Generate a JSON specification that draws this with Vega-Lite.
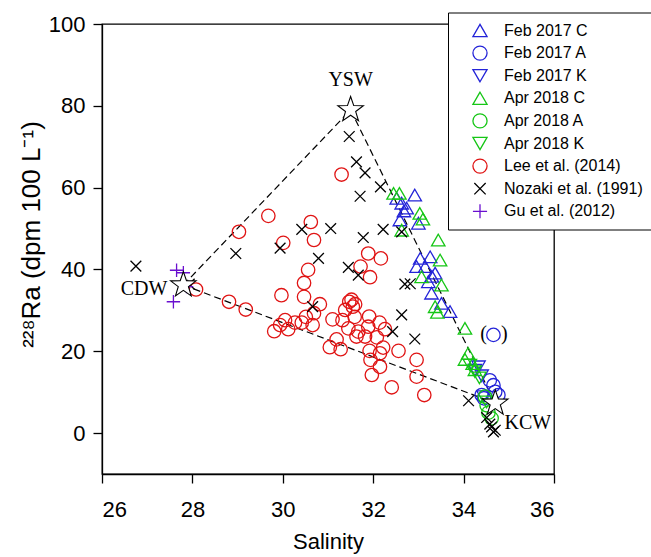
{
  "$schema": "https://vega.github.io/schema/vega-lite/v6.json",
  "autosize": "none",
  "width": 452,
  "height": 450,
  "padding": {"left": 102, "top": 24, "right": 97, "bottom": 83},
  "background": "white",
  "config": {
    "view": {"stroke": "black", "strokeWidth": 1.3},
    "axis": {
      "grid": false,
      "labelFont": "Liberation Sans",
      "titleFont": "Liberation Sans",
      "labelFontSize": 22,
      "titleFontSize": 22,
      "titleFontWeight": "normal",
      "labelColor": "black",
      "titleColor": "black",
      "domainColor": "black",
      "tickColor": "black",
      "tickSize": 9,
      "domainWidth": 1.3,
      "tickWidth": 1.3
    }
  },
  "datasets": {
    "pts": [
      {"series": "Feb 2017 C", "s": 32.52, "ra": 57.4},
      {"series": "Feb 2017 C", "s": 32.63, "ra": 56.2},
      {"series": "Feb 2017 C", "s": 32.74, "ra": 55.0},
      {"series": "Feb 2017 C", "s": 32.68, "ra": 54.3},
      {"series": "Feb 2017 C", "s": 32.92, "ra": 58.2},
      {"series": "Feb 2017 C", "s": 32.59, "ra": 52.1},
      {"series": "Feb 2017 C", "s": 33.0, "ra": 51.3},
      {"series": "Feb 2017 C", "s": 33.04, "ra": 42.7},
      {"series": "Feb 2017 C", "s": 33.26, "ra": 43.1},
      {"series": "Feb 2017 C", "s": 33.15, "ra": 40.7},
      {"series": "Feb 2017 C", "s": 32.96, "ra": 40.7},
      {"series": "Feb 2017 C", "s": 33.37, "ra": 39.1},
      {"series": "Feb 2017 C", "s": 33.3, "ra": 38.3},
      {"series": "Feb 2017 C", "s": 33.22, "ra": 37.0},
      {"series": "Feb 2017 C", "s": 33.29, "ra": 34.2},
      {"series": "Feb 2017 C", "s": 33.51, "ra": 31.7},
      {"series": "Feb 2017 C", "s": 33.7, "ra": 29.7},
      {"series": "Feb 2017 A", "s": 34.66, "ra": 24.0},
      {"series": "Feb 2017 A", "s": 34.58, "ra": 12.9},
      {"series": "Feb 2017 A", "s": 34.66, "ra": 11.7},
      {"series": "Feb 2017 A", "s": 34.7, "ra": 10.1},
      {"series": "Feb 2017 A", "s": 34.77, "ra": 9.3},
      {"series": "Feb 2017 A", "s": 34.4, "ra": 9.3},
      {"series": "Feb 2017 A", "s": 34.45, "ra": 8.5},
      {"series": "Feb 2017 K", "s": 34.33, "ra": 16.2},
      {"series": "Feb 2017 K", "s": 34.25, "ra": 15.4},
      {"series": "Feb 2017 K", "s": 34.4, "ra": 14.0},
      {"series": "Feb 2017 K", "s": 34.44, "ra": 8.9},
      {"series": "Apr 2018 C", "s": 32.45, "ra": 58.6},
      {"series": "Apr 2018 C", "s": 32.58, "ra": 58.6},
      {"series": "Apr 2018 C", "s": 33.03, "ra": 53.7},
      {"series": "Apr 2018 C", "s": 33.1, "ra": 52.3},
      {"series": "Apr 2018 C", "s": 32.63, "ra": 49.6},
      {"series": "Apr 2018 C", "s": 33.44, "ra": 47.2},
      {"series": "Apr 2018 C", "s": 33.48, "ra": 42.3},
      {"series": "Apr 2018 C", "s": 33.07, "ra": 38.2},
      {"series": "Apr 2018 C", "s": 33.51, "ra": 36.2},
      {"series": "Apr 2018 C", "s": 33.37, "ra": 30.9},
      {"series": "Apr 2018 C", "s": 33.42, "ra": 29.5},
      {"series": "Apr 2018 C", "s": 34.03, "ra": 25.6},
      {"series": "Apr 2018 C", "s": 34.1, "ra": 19.5},
      {"series": "Apr 2018 C", "s": 34.03, "ra": 18.0},
      {"series": "Apr 2018 C", "s": 34.2, "ra": 17.0},
      {"series": "Apr 2018 C", "s": 34.25, "ra": 15.5},
      {"series": "Apr 2018 A", "s": 34.47, "ra": 8.9},
      {"series": "Apr 2018 A", "s": 34.51, "ra": 6.8},
      {"series": "Apr 2018 A", "s": 34.55, "ra": 5.0},
      {"series": "Apr 2018 A", "s": 34.62, "ra": 3.6},
      {"series": "Apr 2018 K", "s": 34.14, "ra": 16.6},
      {"series": "Apr 2018 K", "s": 34.25, "ra": 15.0},
      {"series": "Apr 2018 K", "s": 34.35, "ra": 13.5},
      {"series": "Apr 2018 K", "s": 34.51, "ra": 7.6},
      {"series": "Lee et al. (2014)", "s": 31.3, "ra": 63.2},
      {"series": "Lee et al. (2014)", "s": 29.68, "ra": 53.1},
      {"series": "Lee et al. (2014)", "s": 29.03, "ra": 49.2},
      {"series": "Lee et al. (2014)", "s": 30.62, "ra": 51.6},
      {"series": "Lee et al. (2014)", "s": 30.01, "ra": 46.5},
      {"series": "Lee et al. (2014)", "s": 30.69, "ra": 47.2},
      {"series": "Lee et al. (2014)", "s": 31.89, "ra": 43.9},
      {"series": "Lee et al. (2014)", "s": 32.17, "ra": 42.7},
      {"series": "Lee et al. (2014)", "s": 31.72, "ra": 40.7},
      {"series": "Lee et al. (2014)", "s": 31.93, "ra": 38.1},
      {"series": "Lee et al. (2014)", "s": 30.56, "ra": 39.9},
      {"series": "Lee et al. (2014)", "s": 30.47, "ra": 36.7},
      {"series": "Lee et al. (2014)", "s": 29.97, "ra": 33.7},
      {"series": "Lee et al. (2014)", "s": 30.47, "ra": 33.3},
      {"series": "Lee et al. (2014)", "s": 28.08, "ra": 35.1},
      {"series": "Lee et al. (2014)", "s": 28.81, "ra": 32.1},
      {"series": "Lee et al. (2014)", "s": 29.18, "ra": 30.2},
      {"series": "Lee et al. (2014)", "s": 30.82, "ra": 31.5},
      {"series": "Lee et al. (2014)", "s": 30.69, "ra": 29.3},
      {"series": "Lee et al. (2014)", "s": 30.51, "ra": 28.4},
      {"series": "Lee et al. (2014)", "s": 30.42, "ra": 27.0},
      {"series": "Lee et al. (2014)", "s": 30.66, "ra": 26.4},
      {"series": "Lee et al. (2014)", "s": 29.81, "ra": 24.9},
      {"series": "Lee et al. (2014)", "s": 30.05, "ra": 27.6},
      {"series": "Lee et al. (2014)", "s": 30.12, "ra": 25.4},
      {"series": "Lee et al. (2014)", "s": 30.27, "ra": 27.0},
      {"series": "Lee et al. (2014)", "s": 29.94, "ra": 26.4},
      {"series": "Lee et al. (2014)", "s": 31.47, "ra": 32.1},
      {"series": "Lee et al. (2014)", "s": 31.52, "ra": 32.6},
      {"series": "Lee et al. (2014)", "s": 31.6, "ra": 31.5},
      {"series": "Lee et al. (2014)", "s": 31.55, "ra": 30.9},
      {"series": "Lee et al. (2014)", "s": 31.38, "ra": 30.1},
      {"series": "Lee et al. (2014)", "s": 31.1, "ra": 27.8},
      {"series": "Lee et al. (2014)", "s": 31.32, "ra": 27.6},
      {"series": "Lee et al. (2014)", "s": 31.59, "ra": 28.4},
      {"series": "Lee et al. (2014)", "s": 31.45, "ra": 25.6},
      {"series": "Lee et al. (2014)", "s": 31.67, "ra": 24.8},
      {"series": "Lee et al. (2014)", "s": 31.19, "ra": 22.9},
      {"series": "Lee et al. (2014)", "s": 31.04, "ra": 21.0},
      {"series": "Lee et al. (2014)", "s": 31.28, "ra": 20.5},
      {"series": "Lee et al. (2014)", "s": 31.63, "ra": 23.6},
      {"series": "Lee et al. (2014)", "s": 31.91, "ra": 28.5},
      {"series": "Lee et al. (2014)", "s": 32.14, "ra": 27.0},
      {"series": "Lee et al. (2014)", "s": 32.26, "ra": 25.4},
      {"series": "Lee et al. (2014)", "s": 31.89, "ra": 26.0},
      {"series": "Lee et al. (2014)", "s": 31.82, "ra": 23.6},
      {"series": "Lee et al. (2014)", "s": 32.08, "ra": 23.4},
      {"series": "Lee et al. (2014)", "s": 32.56, "ra": 20.1},
      {"series": "Lee et al. (2014)", "s": 31.92, "ra": 20.1},
      {"series": "Lee et al. (2014)", "s": 32.15, "ra": 19.5},
      {"series": "Lee et al. (2014)", "s": 31.94, "ra": 17.9},
      {"series": "Lee et al. (2014)", "s": 32.15, "ra": 16.2},
      {"series": "Lee et al. (2014)", "s": 31.97, "ra": 14.2},
      {"series": "Lee et al. (2014)", "s": 32.22, "ra": 20.9},
      {"series": "Lee et al. (2014)", "s": 32.41, "ra": 11.2},
      {"series": "Lee et al. (2014)", "s": 32.96, "ra": 17.9},
      {"series": "Lee et al. (2014)", "s": 32.96, "ra": 13.8},
      {"series": "Lee et al. (2014)", "s": 33.13, "ra": 9.3},
      {"series": "Nozaki et al. (1991)", "s": 31.47, "ra": 72.5},
      {"series": "Nozaki et al. (1991)", "s": 31.63, "ra": 66.3},
      {"series": "Nozaki et al. (1991)", "s": 31.82, "ra": 63.6},
      {"series": "Nozaki et al. (1991)", "s": 32.16, "ra": 60.2},
      {"series": "Nozaki et al. (1991)", "s": 31.71, "ra": 57.9},
      {"series": "Nozaki et al. (1991)", "s": 30.42, "ra": 49.8},
      {"series": "Nozaki et al. (1991)", "s": 31.06, "ra": 50.0},
      {"series": "Nozaki et al. (1991)", "s": 32.22, "ra": 49.8},
      {"series": "Nozaki et al. (1991)", "s": 32.63, "ra": 49.2},
      {"series": "Nozaki et al. (1991)", "s": 31.78, "ra": 47.8},
      {"series": "Nozaki et al. (1991)", "s": 29.94, "ra": 45.2},
      {"series": "Nozaki et al. (1991)", "s": 28.96, "ra": 43.9},
      {"series": "Nozaki et al. (1991)", "s": 30.79, "ra": 42.7},
      {"series": "Nozaki et al. (1991)", "s": 31.45, "ra": 40.5},
      {"series": "Nozaki et al. (1991)", "s": 31.67, "ra": 38.6},
      {"series": "Nozaki et al. (1991)", "s": 32.7, "ra": 36.4},
      {"series": "Nozaki et al. (1991)", "s": 32.82, "ra": 36.5},
      {"series": "Nozaki et al. (1991)", "s": 27.93, "ra": 36.4},
      {"series": "Nozaki et al. (1991)", "s": 26.75, "ra": 40.8},
      {"series": "Nozaki et al. (1991)", "s": 30.66, "ra": 30.9},
      {"series": "Nozaki et al. (1991)", "s": 32.63, "ra": 28.9},
      {"series": "Nozaki et al. (1991)", "s": 32.43, "ra": 24.8},
      {"series": "Nozaki et al. (1991)", "s": 32.92, "ra": 23.0},
      {"series": "Nozaki et al. (1991)", "s": 34.11, "ra": 7.9},
      {"series": "Nozaki et al. (1991)", "s": 34.51, "ra": 3.8},
      {"series": "Nozaki et al. (1991)", "s": 34.58, "ra": 2.2},
      {"series": "Nozaki et al. (1991)", "s": 34.62, "ra": 1.5},
      {"series": "Nozaki et al. (1991)", "s": 34.7, "ra": 0.7},
      {"series": "Nozaki et al. (1991)", "s": 34.66, "ra": 0.3},
      {"series": "Gu et al. (2012)", "s": 27.65, "ra": 39.8},
      {"series": "Gu et al. (2012)", "s": 27.8, "ra": 39.2},
      {"series": "Gu et al. (2012)", "s": 27.87, "ra": 35.8},
      {"series": "Gu et al. (2012)", "s": 27.58, "ra": 32.1}
    ],
    "segs": [
      {"seg": "a", "o": 1, "s": 27.8, "ra": 36.2},
      {"seg": "a", "o": 2, "s": 31.5, "ra": 79.0},
      {"seg": "b", "o": 1, "s": 31.5, "ra": 79.0},
      {"seg": "b", "o": 2, "s": 34.7, "ra": 7.3},
      {"seg": "c", "o": 1, "s": 27.8, "ra": 36.2},
      {"seg": "c", "o": 2, "s": 34.7, "ra": 7.3}
    ],
    "stars": [
      {"name": "YSW", "s": 31.5, "ra": 79.0},
      {"name": "CDW", "s": 27.8, "ra": 36.2},
      {"name": "KCW", "s": 34.7, "ra": 7.3}
    ],
    "labels": [
      {"t": "YSW", "s": 31.5, "ra": 86.3},
      {"t": "CDW", "s": 26.93, "ra": 35.2},
      {"t": "KCW", "s": 35.42, "ra": 2.5},
      {"t": "(", "s": 34.44, "ra": 24.3},
      {"t": ")", "s": 34.9, "ra": 24.3}
    ]
  },
  "layer": [
    {
      "data": {"name": "segs"},
      "mark": {"type": "line", "color": "black", "strokeDash": [7, 4], "strokeWidth": 1.2},
      "encoding": {
        "x": {"field": "s", "type": "quantitative", "scale": {"domain": [26, 36], "nice": false, "zero": false},
              "axis": {"values": [26, 28, 30, 32, 34, 36], "title": "Salinity", "labelPadding": 16, "titlePadding": 11}},
        "y": {"field": "ra", "type": "quantitative", "scale": {"domain": [-10, 100], "nice": false, "zero": false},
              "axis": {"values": [0, 20, 40, 60, 80, 100], "title": "²²⁸Ra (dpm 100 L⁻¹)", "titleFontSize": 26, "labelPadding": 8, "titlePadding": 4, "titleY": 210}},
        "detail": {"field": "seg"},
        "order": {"field": "o"}
      }
    },
    {
      "data": {"name": "pts"},
      "mark": {"type": "point", "filled": false, "size": 180, "opacity": 1},
      "encoding": {
        "x": {"field": "s", "type": "quantitative"},
        "y": {"field": "ra", "type": "quantitative"},
        "shape": {
          "field": "series", "type": "nominal",
          "scale": {
            "domain": ["Feb 2017 C", "Feb 2017 A", "Feb 2017 K", "Apr 2018 C", "Apr 2018 A", "Apr 2018 K", "Lee et al. (2014)", "Nozaki et al. (1991)", "Gu et al. (2012)"],
            "range": ["triangle-up", "circle", "triangle-down", "triangle-up", "circle", "triangle-down", "circle", "M-0.8,-0.8L0.8,0.8M-0.8,0.8L0.8,-0.8", "M-1,0L1,0M0,-1L0,1"]
          },
          "legend": {
            "title": null,
            "orient": "none",
            "legendX": 346,
            "legendY": -11.5,
            "padding": 10,
            "symbolOffset": 14,
            "labelOffset": 16,
            "labelFont": "Liberation Sans",
            "labelFontSize": 16,
            "labelColor": "black",
            "symbolSize": 200,
            "symbolStrokeWidth": 1.4,
            "rowPadding": 6.6,
            "clipHeight": 16,
            "strokeColor": "black",
            "fillColor": "white",
            "labelLimit": 300
          }
        },
        "color": {
          "field": "series", "type": "nominal",
          "scale": {
            "domain": ["Feb 2017 C", "Feb 2017 A", "Feb 2017 K", "Apr 2018 C", "Apr 2018 A", "Apr 2018 K", "Lee et al. (2014)", "Nozaki et al. (1991)", "Gu et al. (2012)"],
            "range": ["#2424d8", "#2424d8", "#2424d8", "#16c616", "#16c616", "#16c616", "#e01414", "#000000", "#6a0fcf"]
          }
        },
        "strokeWidth": {
          "field": "series", "type": "nominal", "legend": null,
          "scale": {
            "domain": ["Feb 2017 C", "Feb 2017 A", "Feb 2017 K", "Apr 2018 C", "Apr 2018 A", "Apr 2018 K", "Lee et al. (2014)", "Nozaki et al. (1991)", "Gu et al. (2012)"],
            "range": [1.3, 1.3, 1.3, 1.3, 1.3, 1.3, 1.3, 1.3, 2.6]
          }
        }
      }
    },
    {
      "data": {"name": "stars"},
      "mark": {"type": "point", "filled": false, "fill": "white", "fillOpacity": 1, "color": "black", "strokeWidth": 1.1, "size": 720, "opacity": 1,
               "shape": "M0,-1L0.235,-0.324L0.951,-0.309L0.38,0.124L0.588,0.809L0,0.4L-0.588,0.809L-0.38,0.124L-0.951,-0.309L-0.235,-0.324Z"},
      "encoding": {
        "x": {"field": "s", "type": "quantitative"},
        "y": {"field": "ra", "type": "quantitative"}
      }
    },
    {
      "data": {"name": "labels"},
      "mark": {"type": "text", "font": "Liberation Serif", "fontSize": 20, "color": "black", "baseline": "middle", "align": "center"},
      "encoding": {
        "x": {"field": "s", "type": "quantitative"},
        "y": {"field": "ra", "type": "quantitative"},
        "text": {"field": "t"}
      }
    }
  ]
}
